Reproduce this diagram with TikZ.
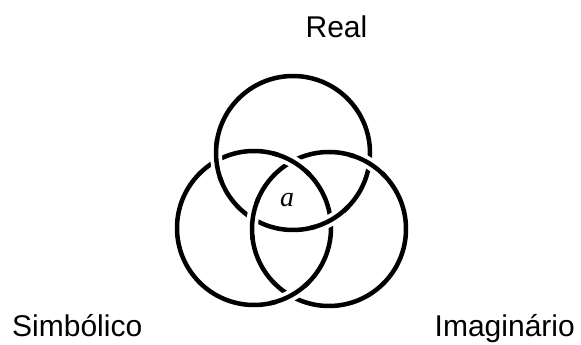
\documentclass[tikz,border=0pt]{standalone}
\usepackage{fontspec}
\setmainfont{Liberation Sans}
\newfontfamily\serifit{Liberation Serif}
\usetikzlibrary{calc}
\begin{document}
\begin{tikzpicture}[x=1pt,y=1pt,
  ring/.style={line width=4.5pt,black},
  ringgap/.style={line width=12pt,white},
  lbl/.style={inner sep=0pt,font=\fontsize{30}{30}\selectfont}]
\useasboundingbox (0,0) rectangle (581,345);
% centres
\coordinate (cT) at (293,192);
\coordinate (cL) at (254,117);
\coordinate (cR) at (329,116);
% full rings
\draw[ring] (cT) circle[radius=77];
\draw[ring] (cL) circle[radius=77];
\draw[ring] (cR) circle[radius=77];
% over-crossings: Top over Left
\foreach \a in {185.8,299.2}{
  \draw[ringgap] ($(cT)+(\a-12:77)$) arc[start angle=\a-12,end angle=\a+12,radius=77];
  \draw[ring] ($(cT)+(\a-16:77)$) arc[start angle=\a-16,end angle=\a+16,radius=77];
}
% Right over Top
\foreach \a in {58.4,172.2}{
  \draw[ringgap] ($(cR)+(\a-12:77)$) arc[start angle=\a-12,end angle=\a+12,radius=77];
  \draw[ring] ($(cR)+(\a-16:77)$) arc[start angle=\a-16,end angle=\a+16,radius=77];
}
% Left over Right
\foreach \a in {60.1,298.4}{
  \draw[ringgap] ($(cL)+(\a-12:77)$) arc[start angle=\a-12,end angle=\a+12,radius=77];
  \draw[ring] ($(cL)+(\a-16:77)$) arc[start angle=\a-16,end angle=\a+16,radius=77];
}
\node[inner sep=0pt,font=\serifit\itshape\fontsize{28}{28}\selectfont] (a) at (287,145) {a};
\node[lbl,anchor=base] (real) at (336.5,307) {Real};
\node[lbl,anchor=base west] (simb) at (12,8) {Simbólico};
\node[lbl,anchor=base east] (imag) at (575,8) {Imaginário};
\end{tikzpicture}
\end{document}
